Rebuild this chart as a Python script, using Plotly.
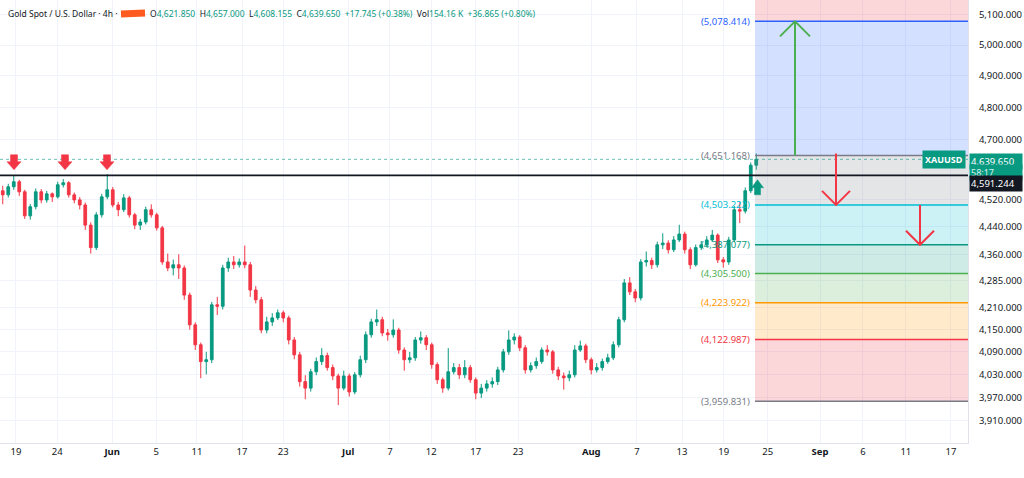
import math

import plotly.graph_objects as go

# 12h-ish candles (XAUUSD)
closes = [
    4533, 4557, 4572, 4542, 4471, 4498, 4542, 4518, 4536, 4527,
    4563, 4569, 4533, 4518, 4503, 4444, 4379, 4474, 4527, 4548,
    4503, 4489, 4524, 4474, 4444, 4453, 4489, 4474, 4436, 4338,
    4321, 4330, 4321, 4245, 4163, 4109, 4064, 4069, 4218, 4214,
    4321, 4338, 4330, 4338, 4330, 4259, 4232, 4149, 4171, 4182,
    4196, 4182, 4122, 4082, 4011, 3994, 4037, 4064, 4080, 4048,
    4026, 3994, 4026, 3984, 4029, 4069, 4136, 4171, 4177, 4141,
    4136, 4149, 4095, 4069, 4074, 4122, 4128, 4109, 4056, 4016,
    3994, 4037, 4048, 4029, 4048, 4016, 3981, 3994, 4005, 4011,
    4042, 4090, 4122, 4130, 4101, 4042, 4053, 4064, 4095, 4090,
    4042, 4026, 4021, 4029, 4095, 4106, 4069, 4042, 4048, 4064,
    4074, 4109, 4177, 4279, 4254, 4237, 4338, 4342, 4330, 4387,
    4392, 4373, 4401, 4418, 4373, 4330, 4379, 4387, 4401, 4415,
    4344, 4338, 4401, 4489, 4485, 4545, 4621.9, 4639.65,
]
highs = [
    4560, 4566, 4591, 4578, 4548, 4506, 4552, 4550, 4545, 4540,
    4572, 4580, 4574, 4540, 4526, 4510, 4452, 4482, 4536, 4595,
    4556, 4512, 4535, 4530, 4480, 4462, 4498, 4505, 4480, 4442,
    4362, 4345, 4360, 4328, 4252, 4170, 4115, 4090, 4226, 4240,
    4330, 4350, 4355, 4348, 4385, 4338, 4270, 4240, 4185, 4195,
    4205, 4202, 4188, 4130, 4090, 4028, 4045, 4075, 4100, 4088,
    4056, 4032, 4040, 4032, 4036, 4080, 4145, 4180, 4205, 4185,
    4152, 4178, 4155, 4102, 4090, 4130, 4145, 4135, 4115, 4062,
    4022, 4100, 4060, 4058, 4068, 4055, 4022, 4005, 4015, 4022,
    4050, 4098, 4148, 4140, 4135, 4108, 4062, 4075, 4102, 4108,
    4095, 4050, 4035, 4040, 4108, 4120, 4112, 4075, 4060, 4072,
    4085, 4118, 4185, 4290, 4295, 4262, 4346, 4368, 4350, 4396,
    4420, 4400, 4412, 4445, 4425, 4380, 4388, 4398, 4412, 4430,
    4420, 4352, 4410, 4500, 4512, 4555, 4630, 4657.0,
]
lows = [
    4505, 4525, 4548, 4530, 4462, 4460, 4490, 4508, 4510, 4512,
    4522, 4555, 4525, 4508, 4490, 4430, 4362, 4372, 4466, 4520,
    4496, 4470, 4482, 4466, 4432, 4430, 4446, 4466, 4428, 4330,
    4312, 4300, 4290, 4232, 4150, 4095, 4020, 4030, 4060, 4190,
    4205, 4310, 4318, 4322, 4320, 4240, 4222, 4140, 4140, 4160,
    4176, 4170, 4110, 4070, 3998, 3965, 3985, 4028, 4055, 4040,
    4015, 3950, 3988, 3972, 3978, 4022, 4060, 4128, 4160, 4132,
    4120, 4128, 4085, 4040, 4060, 4066, 4112, 4095, 4045, 4005,
    3982, 3988, 4030, 4018, 4020, 4008, 3965, 3968, 3985, 3995,
    4002, 4035, 4082, 4110, 4092, 4032, 4035, 4045, 4058, 4080,
    4032, 4015, 3990, 4012, 4022, 4090, 4060, 4030, 4035, 4040,
    4058, 4068, 4102, 4170, 4245, 4225, 4230, 4325, 4318, 4322,
    4375, 4362, 4366, 4395, 4362, 4318, 4325, 4372, 4380, 4395,
    4335, 4322, 4330, 4395, 4450, 4478, 4538, 4608.155,
]
first_open = 4545
opens = [first_open] + closes[:-1]
bars = list(range(len(closes)))

tick_labels = ["19", "24", "<b>Jun</b>", "5", "11", "17", "23", "<b>Jul</b>", "7", "12", "17",
               "23", "<b>Aug</b>", "7", "13", "19", "25", "<b>Sep</b>", "6", "11", "17"]
tick_bars = [2.4, 9.9, 19.9, 27.9, 35.3, 43.5, 51.0, 62.8, 70.4, 77.9, 86.0,
             93.7, 107.0, 115.3, 123.5, 131.1, 139.1, 148.6, 156.4, 164.2, 172.4]
price_ticks = [5100, 5000, 4900, 4800, 4700, 4520, 4440, 4360, 4285, 4210, 4150, 4090, 4030, 3970, 3910]

# fib extension levels (0 .. 2.618)
fib_prices = [3959.831, 4122.987, 4223.922, 4305.500, 4387.077, 4503.222, 4651.168, 5078.414, 5769.751]
fib_colors = ["#787b86", "#f23645", "#ff9800", "#4caf50", "#089981", "#00bcd4", "#787b86", "#2962ff", "#f23645"]

hline_price = 4591.244
last_price = 4639.65
countdown = "58:17"

UP, DOWN, DARK = "#089981", "#f23645", "#131722"
GRID = "#f0f3fa"
FONT = "Noto Sans"

# geometry of the pane (px) -> used for the drawing helpers
PANE_W, PANE_H = 968, 443
BAR_PX = 5.5
Y_LO, Y_HI = 3853, 5150
X_LO, X_HI = -0.5, PANE_W / BAR_PX - 0.5
LOG_SPAN = math.log10(Y_HI) - math.log10(Y_LO)


def bar_at(px):
    return px / BAR_PX - 0.5


def shift(price, px):
    return price * 10 ** (px * LOG_SPAN / PANE_H)


def rgba(hexcol, a):
    h = hexcol.lstrip("#")
    return f"rgba({int(h[0:2], 16)},{int(h[2:4], 16)},{int(h[4:6], 16)},{a})"


fig = go.Figure()

# fib zones + lines
fx0, fx1 = bar_at(755), X_HI
for k in range(1, len(fib_prices)):
    fig.add_trace(go.Scatter(x=[fx0, fx1, fx1, fx0, fx0],
                             y=[fib_prices[k - 1], fib_prices[k - 1], fib_prices[k], fib_prices[k], fib_prices[k - 1]],
                             fill="toself", fillcolor=rgba(fib_colors[k], 0.2), mode="none",
                             hoverinfo="skip", showlegend=False))
for p, c in zip(fib_prices, fib_colors):
    fig.add_trace(go.Scatter(x=[fx0, fx1], y=[p, p], mode="lines", line=dict(color=c, width=1.5),
                             hoverinfo="skip", showlegend=False))

# current price dotted line and horizontal level
fig.add_trace(go.Scatter(x=[X_LO, X_HI], y=[last_price, last_price], mode="lines",
                         line=dict(color=rgba(UP, 0.6), width=1, dash="dot"), hoverinfo="skip", showlegend=False))
fig.add_trace(go.Scatter(x=[X_LO, X_HI], y=[hline_price, hline_price], mode="lines",
                         line=dict(color=DARK, width=1.6), hoverinfo="skip", showlegend=False))

fig.add_trace(go.Candlestick(x=bars, open=opens, high=highs, low=lows, close=closes,
                             increasing=dict(line=dict(color=UP, width=1), fillcolor=UP),
                             decreasing=dict(line=dict(color=DOWN, width=1), fillcolor=DOWN),
                             whiskerwidth=0, hoverinfo="skip", showlegend=False))


def line_arrow(px, p_from, p_to, color, arm=14):
    x = bar_at(px)
    d = arm / BAR_PX
    sgn = -1 if p_to > p_from else 1
    base = shift(p_to, sgn * arm)
    fig.add_trace(go.Scatter(x=[x, x, None, x - d, x, x + d], y=[p_from, p_to, None, base, p_to, base],
                             mode="lines", line=dict(color=color, width=2), hoverinfo="skip", showlegend=False))


def block_arrow(px, tip, color, down=True, stem_w=3.5, head_w=7, head_h=8, stem_h=7):
    s = -1 if not down else 1
    hb = shift(tip, s * head_h)
    st = shift(tip, s * (head_h + stem_h))
    xs = [px - stem_w, px - stem_w, px - head_w, px, px + head_w, px + stem_w, px + stem_w, px - stem_w]
    ys = [st, hb, hb, tip, hb, hb, st, st]
    fig.add_trace(go.Scatter(x=[bar_at(v) for v in xs], y=ys, fill="toself", fillcolor=color,
                             mode="lines", line=dict(color=color, width=0.5), hoverinfo="skip", showlegend=False))


line_arrow(795, fib_prices[6], fib_prices[7], "#4caf50", arm=15)
line_arrow(836, shift(fib_prices[6], 2), fib_prices[5], DOWN)
line_arrow(920, fib_prices[5], fib_prices[4], DOWN)
for px in [14, 65, 107]:
    block_arrow(px, 4608, DOWN)
block_arrow(757.5, 4578, UP, down=False, stem_w=3, head_w=6)

# fib labels
for p, c in zip(fib_prices, fib_colors):
    if p < Y_HI:
        fig.add_annotation(x=bar_at(752), y=math.log10(p), text=f"({p:,.3f})", showarrow=False,
                           xanchor="right", yanchor="middle", font=dict(family=FONT, size=9.5, color=c))

# right axis labels
box = dict(xref="paper", showarrow=False, align="left", width=50, borderpad=1)
fig.add_annotation(xref="paper", x=966 / PANE_W, y=math.log10(last_price), text="<b>XAUUSD</b>",
                   showarrow=False, xanchor="right", yanchor="middle", bgcolor=UP,
                   font=dict(family=FONT, size=9, color="white"), borderpad=2)
fig.add_annotation(x=969 / PANE_W, y=math.log10(shift(last_price, 6)), text=f"{last_price:,.3f}",
                   xanchor="left", yanchor="top", bgcolor=UP,
                   font=dict(family=FONT, size=9.5, color="white"), **box)
fig.add_annotation(x=969 / PANE_W, y=math.log10(shift(last_price, -5)), text=countdown,
                   xanchor="left", yanchor="top", bgcolor=UP,
                   font=dict(family=FONT, size=9, color="#d8f3ec"), **box)
fig.add_annotation(x=969 / PANE_W, y=math.log10(hline_price), text=f"{hline_price:,.3f}",
                   xanchor="left", yanchor="top", bgcolor=DARK,
                   font=dict(family=FONT, size=9.5, color="white"), **box)

# header
val = lambda s: f"<span style='color:{UP}'>{s}</span>"
fig.add_annotation(xref="paper", yref="paper", x=6 / PANE_W, y=1 - 13 / PANE_H,
                   text="Gold Spot / U.S. Dollar · 4h ·", showarrow=False, xanchor="left", yanchor="middle",
                   font=dict(family=FONT, size=8.5, color=DARK))
header = ("O" + val("4,621.850") + "&nbsp;&nbsp;H" + val("4,657.000") + "&nbsp;&nbsp;L" + val("4,608.155")
          + "&nbsp;&nbsp;C" + val("4,639.650") + "&nbsp;&nbsp;" + val("+17.745 (+0.38%)")
          + "&nbsp;&nbsp;Vol" + val("154.16 K") + "&nbsp;&nbsp;" + val("+36.865 (+0.80%)"))
fig.add_annotation(xref="paper", yref="paper", x=148 / PANE_W, y=1 - 13 / PANE_H, text=header,
                   showarrow=False, xanchor="left", yanchor="middle", font=dict(family=FONT, size=8.5, color=DARK))
fig.add_shape(type="line", xref="paper", yref="paper", x0=121 / PANE_W, x1=145 / PANE_W,
              y0=1 - 14 / PANE_H, y1=1 - 13 / PANE_H, line=dict(color="#ff5a1f", width=7))

fig.update_layout(
    width=1024, height=478,
    margin=dict(l=0, r=1024 - PANE_W, t=0, b=478 - PANE_H),
    paper_bgcolor="white", plot_bgcolor="white",
    font=dict(family=FONT, size=10, color=DARK),
    xaxis=dict(range=[X_LO, X_HI], tickvals=tick_bars, ticktext=tick_labels, showgrid=True,
               gridcolor=GRID, zeroline=False, rangeslider=dict(visible=False), ticks="",
               showline=True, linecolor="#e0e3eb", tickfont=dict(size=9.5)),
    yaxis=dict(type="log", side="right", range=[math.log10(Y_LO), math.log10(Y_HI)],
               tickvals=price_ticks, ticktext=[f"{v:,.3f}" for v in price_ticks], showgrid=True,
               gridcolor=GRID, zeroline=False, ticks="", showline=True, linecolor="#e0e3eb",
               ticklabelstandoff=8, tickfont=dict(size=9.5)),
)

fig.write_html("out.html", config={"displayModeBar": False},
               post_script="document.body.style.margin='0';")
